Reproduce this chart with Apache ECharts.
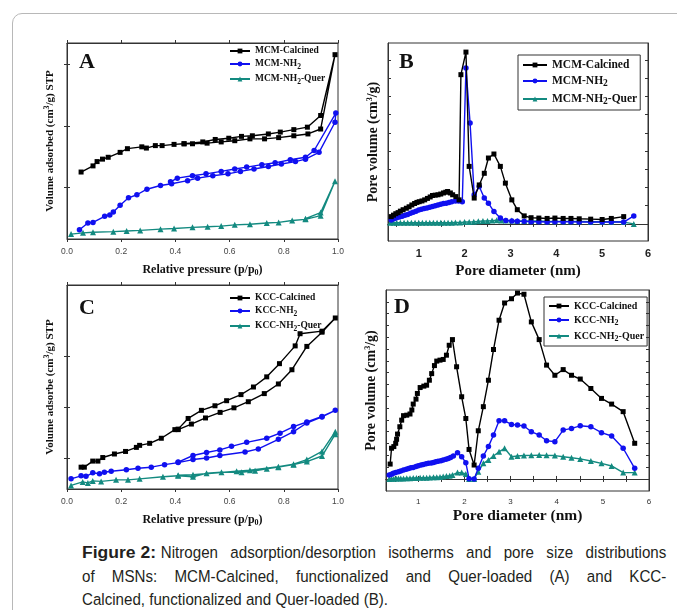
<!DOCTYPE html>
<html>
<head>
<meta charset="utf-8">
<script src="https://cdn.jsdelivr.net/npm/echarts@6/dist/echarts.min.js"></script>
<style>
    html, body { margin: 0; width: 677px; height: 610px; overflow: hidden; background: #fff; }
    #frame { position: absolute; left: 12px; top: 13px; width: 720px; height: 700px; border: 1px solid #b8b8b8; border-radius: 10px; }
    #chart { position: absolute; left: 0; top: 0; width: 677px; height: 535px; }
    #caption { position: absolute; left: 82px; top: 541px; width: 664px; color: #231f20;
        transform: scaleX(0.88); transform-origin: 0 0;
        font-family: "Liberation Sans", Arial, sans-serif; font-size: 17.2px; line-height: 23.5px; }
    #caption .ln { white-space: nowrap; text-align: justify; text-align-last: justify; }
    #caption .last { text-align-last: left; }
    #caption b { display: inline-block; transform: scaleX(1.16); transform-origin: 0 0; margin-right: 17px; }
</style>
</head>
<body>
<div id="frame"></div>
<div id="chart"></div>
<div id="caption">
    <div class="ln"><b>Figure 2:</b>Nitrogen adsorption/desorption isotherms and pore size distributions</div>
    <div class="ln">of MSNs: MCM-Calcined, functionalized and Quer-loaded (A) and KCC-</div>
    <div class="ln last">Calcined, functionalized and Quer-loaded (B).</div>
</div>
<script>
    // ---- tick labels ----
    var isoXTicks = [0, 0.2, 0.4, 0.6, 0.8, 1.0];
    var poreXTicks = [1, 2, 3, 4, 5, 6];
    var poreXMarks = [0.5, 1, 1.5, 2, 2.5, 3, 3.5, 4, 4.5, 5, 5.5, 6];
    var yTicksA = [100, 200, 300];
    var yTicksC = [100, 200, 300];
    var yTicksB = [0, 0.5, 1, 1.5, 2, 2.5, 3, 3.5, 4, 4.5];
    var yTicksD = [0, 0.5, 1, 1.5, 2, 2.5, 3, 3.5, 4, 4.5, 5, 5.5, 6, 6.5, 7, 7.5];

    // ---- A: MCM isotherms (adsorption branch then desorption back) ----
    var mcmCalcinedIso = [[0.052,125],[0.096,135],[0.111,142],[0.131,146],[0.152,149],[0.196,157],[0.223,163],[0.276,166],[0.293,164],
        [0.326,168],[0.351,168],[0.395,170],[0.432,171],[0.463,171],[0.517,172],[0.569,174],[0.619,176],[0.675,179],[0.729,179],
        [0.781,181],[0.837,184],[0.889,187],[0.936,195],[0.989,316],[0.936,217],[0.887,198],[0.837,194],[0.787,190],[0.743,187],
        [0.684,184],[0.644,183],[0.597,180],[0.547,178],[0.501,174],[0.432,171]];
    var mcmNH2Iso = [[0.046,31],[0.077,42],[0.096,43],[0.139,53],[0.158,55],[0.171,60],[0.196,71],[0.227,83],[0.258,88],[0.295,97],
        [0.345,103],[0.386,106],[0.445,111],[0.482,115],[0.538,119],[0.594,122],[0.640,126],[0.690,130],[0.743,134],[0.791,138],
        [0.843,142],[0.880,146],[0.930,157],[0.989,206],[0.992,221],[0.912,160],[0.880,149],[0.824,145],[0.768,140],[0.719,137],
        [0.663,133],[0.619,130],[0.569,126],[0.513,122],[0.463,119],[0.407,115],[0.382,109]];
    var mcmQuerIso = [[0.015,24],[0.059,26],[0.096,27],[0.171,28],[0.220,29],[0.270,30],[0.345,32],[0.395,33],[0.463,35],[0.519,36],
        [0.569,37],[0.619,39],[0.675,40],[0.737,42],[0.781,43],[0.831,46],[0.880,48],[0.936,54],[0.989,110],[0.936,59],[0.880,49]];

    // ---- B: MCM pore size distribution ----
    var mcmCalcinedPsd = [[0.40,0.20],[0.45,0.24],[0.50,0.28],[0.55,0.31],[0.60,0.35],[0.66,0.39],[0.73,0.43],[0.79,0.47],[0.85,0.52],
        [0.91,0.56],[0.96,0.59],[1.01,0.61],[1.07,0.63],[1.13,0.66],[1.19,0.70],[1.25,0.74],[1.30,0.78],[1.36,0.79],[1.42,0.80],
        [1.48,0.82],[1.54,0.85],[1.59,0.87],[1.63,0.89],[1.69,0.85],[1.74,0.80],[1.81,0.75],[1.88,0.66],[1.92,4.10],[2.03,4.72],
        [2.10,1.58],[2.21,0.71],[2.32,1.07],[2.43,1.39],[2.52,1.81],[2.64,1.92],[2.78,1.58],[2.89,1.12],[3.03,0.66],[3.15,0.39],
        [3.30,0.22],[3.45,0.17],[3.62,0.16],[3.80,0.15],[3.97,0.16],[4.15,0.15],[4.32,0.15],[4.50,0.14],[4.75,0.13],[5.00,0.12],
        [5.20,0.15],[5.47,0.20]];
    var mcmNH2Psd = [[0.40,0.11],[0.46,0.14],[0.52,0.17],[0.58,0.19],[0.64,0.21],[0.70,0.24],[0.76,0.26],[0.82,0.29],[0.88,0.32],
        [0.94,0.35],[1.00,0.38],[1.06,0.40],[1.12,0.42],[1.18,0.44],[1.24,0.46],[1.30,0.48],[1.36,0.50],[1.42,0.52],[1.48,0.54],
        [1.54,0.56],[1.60,0.57],[1.66,0.59],[1.72,0.61],[1.80,0.63],[1.87,0.63],[1.95,0.61],[2.03,4.28],[2.12,2.77],[2.21,0.80],
        [2.32,1.03],[2.43,0.71],[2.52,0.57],[2.64,0.34],[2.78,0.16],[2.90,0.09],[3.03,0.08],[3.15,0.07],[3.30,0.07],[3.45,0.06],
        [3.62,0.06],[3.80,0.05],[3.97,0.06],[4.15,0.06],[4.32,0.06],[4.50,0.05],[4.75,0.05],[5.00,0.05],[5.20,0.05],[5.47,0.05],[5.69,0.22]];
    var mcmQuerPsd = [[0.38,0.03],[0.45,0.03],[0.52,0.03],[0.60,0.03],[0.68,0.03],[0.76,0.03],[0.84,0.03],[0.92,0.03],[1.00,0.03],
        [1.08,0.03],[1.16,0.03],[1.24,0.03],[1.32,0.03],[1.40,0.03],[1.48,0.03],[1.56,0.03],[1.64,0.03],[1.72,0.03],[1.80,0.04],
        [1.90,0.04],[2.00,0.05],[2.10,0.05],[2.20,0.06],[2.30,0.07],[2.40,0.08],[2.50,0.08],[2.60,0.09],[2.70,0.10],[2.80,0.09],
        [2.90,0.09],[3.03,0.09],[3.15,0.08],[3.30,0.08],[3.45,0.08],[3.62,0.08],[3.80,0.07],[3.97,0.07],[4.15,0.07],[4.32,0.07],
        [4.50,0.07],[4.75,0.06],[5.00,0.06],[5.20,0.06],[5.47,0.05],[5.69,0.00]];

    // ---- C: KCC isotherms ----
    var kccCalcinedIso = [[0.052,82],[0.064,82],[0.095,94],[0.114,94],[0.132,101],[0.175,108],[0.216,113],[0.256,121],[0.268,125],
        [0.305,129],[0.348,139],[0.398,156],[0.410,156],[0.459,167],[0.511,179],[0.565,190],[0.616,199],[0.669,211],[0.728,227],
        [0.780,246],[0.830,274],[0.885,320],[0.941,348],[0.990,376],[0.941,350],[0.860,345],[0.842,321],[0.784,286],[0.737,260],
        [0.688,240],[0.642,225],[0.589,213],[0.546,203],[0.496,194],[0.447,178],[0.410,157]];
    var kccNH2Iso = [[0.015,59],[0.052,65],[0.070,64],[0.095,71],[0.120,69],[0.138,72],[0.163,74],[0.219,77],[0.262,80],[0.311,82],
        [0.360,87],[0.410,91],[0.465,97],[0.515,100],[0.564,105],[0.657,112],[0.706,118],[0.780,137],[0.836,152],[0.885,169],
        [0.941,181],[0.990,194],[0.941,182],[0.885,171],[0.836,162],[0.786,149],[0.737,139],[0.663,131],[0.607,123],[0.564,116],
        [0.515,111],[0.465,105],[0.410,92]];
    var kccQuerIso = [[0.015,46],[0.058,53],[0.077,51],[0.095,55],[0.126,54],[0.181,57],[0.225,57],[0.268,59],[0.354,63],[0.410,65],
        [0.465,63],[0.515,70],[0.570,72],[0.644,72],[0.694,75],[0.737,79],[0.780,82],[0.836,87],[0.885,93],[0.941,104],[0.990,147],
        [0.990,152],[0.941,113],[0.885,97],[0.836,88],[0.780,83],[0.675,76],[0.626,74],[0.465,67],[0.410,66]];

    // ---- D: KCC pore size distribution ----
    var kccCalcinedPsd = [[0.39,0.63],[0.42,1.30],[0.47,1.37],[0.51,1.51],[0.53,1.68],[0.55,1.90],[0.60,2.21],[0.64,2.49],[0.68,2.68],
        [0.75,2.70],[0.82,2.75],[0.86,2.92],[0.89,3.17],[0.95,3.38],[0.98,3.62],[1.04,3.87],[1.12,3.93],[1.18,3.97],[1.24,4.18],
        [1.29,4.46],[1.35,4.80],[1.40,4.99],[1.47,5.03],[1.54,5.06],[1.61,5.24],[1.67,5.66],[1.74,5.90],[1.83,4.75],[1.94,3.48],
        [2.03,2.56],[2.10,1.25],[2.21,0.59],[2.30,2.04],[2.41,3.06],[2.52,4.18],[2.63,5.48],[2.75,6.72],[2.87,7.45],[3.02,7.63],
        [3.15,7.87],[3.29,7.82],[3.45,6.65],[3.62,5.90],[3.78,4.82],[3.96,4.39],[4.14,4.63],[4.32,4.39],[4.51,4.23],[4.74,3.83],
        [4.97,3.41],[5.19,3.17],[5.44,2.85],[5.69,1.51]];
    var kccNH2Psd = [[0.37,0.17],[0.42,0.20],[0.46,0.24],[0.51,0.27],[0.57,0.31],[0.62,0.34],[0.68,0.38],[0.74,0.41],[0.79,0.44],
        [0.84,0.47],[0.89,0.49],[0.95,0.53],[1.00,0.56],[1.06,0.59],[1.11,0.61],[1.17,0.64],[1.22,0.66],[1.28,0.68],[1.33,0.70],
        [1.38,0.73],[1.43,0.75],[1.49,0.77],[1.54,0.80],[1.60,0.83],[1.65,0.87],[1.70,0.91],[1.76,0.97],[1.85,1.11],[1.94,0.94],
        [2.03,0.69],[2.10,0.01],[2.21,0.00],[2.30,0.45],[2.41,0.97],[2.52,1.37],[2.63,1.86],[2.75,2.46],[2.87,2.46],[3.02,2.31],
        [3.15,2.28],[3.29,2.24],[3.45,2.00],[3.62,1.86],[3.78,1.62],[3.96,1.58],[4.14,2.07],[4.32,2.14],[4.51,2.25],[4.74,2.21],
        [4.97,1.96],[5.19,1.82],[5.44,1.30],[5.69,0.45]];
    var kccQuerPsd = [[0.37,0.00],[0.42,0.01],[0.47,0.01],[0.52,0.02],[0.57,0.02],[0.62,0.02],[0.68,0.02],[0.75,0.03],[0.82,0.03],
        [0.89,0.04],[0.96,0.04],[1.04,0.05],[1.11,0.05],[1.18,0.05],[1.25,0.06],[1.33,0.07],[1.40,0.07],[1.47,0.08],[1.54,0.10],
        [1.61,0.12],[1.68,0.14],[1.74,0.17],[1.85,0.27],[1.94,0.27],[2.03,0.21],[2.10,0.00],[2.21,0.00],[2.30,0.31],[2.41,0.66],
        [2.52,0.80],[2.63,0.97],[2.75,1.15],[2.87,1.30],[3.02,0.94],[3.15,0.97],[3.29,0.99],[3.45,1.00],[3.62,1.01],[3.78,1.00],
        [3.96,0.99],[4.14,0.94],[4.32,0.90],[4.51,0.85],[4.74,0.76],[4.97,0.66],[5.19,0.55],[5.44,0.27],[5.69,0.27]];

    var serif = 'Liberation Serif';
    var sans = 'Liberation Sans';
    var colors = ['#000000', '#1010f0', '#138a80'];
    var symbols = ['rect', 'circle', 'triangle'];
    var symSizes = [5, 5.5, 6];
    var richSub = {
        sub: { fontSize: 8, fontWeight: 'bold', fontFamily: serif, padding: [6, 0, 0, 0] },
        sup: { fontSize: 8, fontWeight: 'bold', fontFamily: serif, padding: [0, 0, 6, 0] }
    };

    var panels = [
        {
            grid: { left: 67, top: 43, width: 271, height: 196 },
            xMin: 0, xMax: 1, xTicks: isoXTicks, xMarks: isoXTicks, xFmt: function (v) { return v.toFixed(1); },
            xLabel: { fontSize: 8.5, color: '#444', fontFamily: sans, margin: 8 },
            xName: 'Relative pressure (p/p{sub|0})', xNameSize: 12, xNameGap: 24,
            yMin: 16, yMax: 335, yTicks: yTicksA,
            yName: 'Volume adsorbed (cm{sup|3}/g) STP', yNameSize: 11, yNameGap: 10,
            names: ['MCM-Calcined', 'MCM-NH2', 'MCM-NH2-Quer'],
            data: [mcmCalcinedIso, mcmNH2Iso, mcmQuerIso],
            legend: { left: 229, top: 46, fontSize: 9.5, border: false, itemWidth: 20, gap: 3 },
            letter: 'A', letterPos: [79, 51], tickIn: false
        },
        {
            grid: { left: 388, top: 43, width: 260, height: 198 },
            xMin: 0.33, xMax: 6, xTicks: poreXTicks, xMarks: poreXMarks, xFmt: function (v) { return String(v); },
            xLabel: { fontSize: 11, color: '#222', fontFamily: sans, fontWeight: 'bold', margin: 7 },
            xName: 'Pore diameter (nm)', xNameSize: 15, xNameGap: 23,
            yMin: -0.47, yMax: 4.97, yTicks: yTicksB,
            yName: 'Pore volume (cm{sup|3}/g)', yNameSize: 14, yNameGap: 8,
            names: ['MCM-Calcined', 'MCM-NH2', 'MCM-NH2-Quer'],
            data: [mcmCalcinedPsd, mcmNH2Psd, mcmQuerPsd],
            legend: { left: 518, top: 55, fontSize: 11.5, border: true, itemWidth: 24, gap: 4 },
            letter: 'B', letterPos: [399, 51], tickIn: true
        },
        {
            grid: { left: 67, top: 285, width: 271, height: 204 },
            xMin: 0, xMax: 1, xTicks: isoXTicks, xMarks: isoXTicks, xFmt: function (v) { return v.toFixed(1); },
            xLabel: { fontSize: 8.5, color: '#444', fontFamily: sans, margin: 8 },
            xName: 'Relative pressure (p/p{sub|0})', xNameSize: 12, xNameGap: 24,
            yMin: 39, yMax: 441, yTicks: yTicksC,
            yName: 'Volume adsorbe (cm{sup|3}/g) STP', yNameSize: 11, yNameGap: 10,
            names: ['KCC-Calcined', 'KCC-NH2', 'KCC-NH2-Quer'],
            data: [kccCalcinedIso, kccNH2Iso, kccQuerIso],
            legend: { left: 229, top: 293, fontSize: 9.5, border: false, itemWidth: 20, gap: 3 },
            letter: 'C', letterPos: [79, 297], tickIn: false
        },
        {
            grid: { left: 386, top: 290, width: 263, height: 201 },
            xMin: 0.3, xMax: 6, xTicks: poreXTicks, xMarks: poreXMarks, xFmt: function (v) { return String(v); },
            xLabel: { fontSize: 8, color: '#333', fontFamily: sans, margin: 7 },
            xName: 'Pore diameter (nm)', xNameSize: 15.5, xNameGap: 17,
            yMin: -0.51, yMax: 8, yTicks: yTicksD,
            yName: 'Pore volume (cm{sup|3}/g)', yNameSize: 14, yNameGap: 8,
            names: ['KCC-Calcined', 'KCC-NH2', 'KCC-NH2-Quer'],
            data: [kccCalcinedPsd, kccNH2Psd, kccQuerPsd],
            legend: { left: 544, top: 297, fontSize: 10, border: true, itemWidth: 20, gap: 4 },
            letter: 'D', letterPos: [394, 296], tickIn: true
        }
    ];

    var option = {
        backgroundColor: 'transparent',
        animation: false,
        grid: [], xAxis: [], yAxis: [], series: [], legend: [], graphic: []
    };

    panels.forEach(function (p, i) {
        option.grid.push(Object.assign({ show: true, borderColor: '#333', borderWidth: 1, backgroundColor: 'transparent' }, p.grid));
        var line = { show: true, lineStyle: { color: '#333', width: 1 } };
        // bottom axis with labels
        option.xAxis.push({
            gridIndex: i, type: 'value', min: p.xMin, max: p.xMax, position: 'bottom',
            axisLine: line, splitLine: { show: false },
            axisTick: { show: true, inside: p.tickIn, length: 3, customValues: p.xMarks, lineStyle: { color: '#333' } },
            axisLabel: Object.assign({ customValues: p.xTicks, formatter: p.xFmt }, p.xLabel),
            name: p.xName, nameLocation: 'middle', nameGap: p.xNameGap,
            nameTextStyle: { fontFamily: serif, fontWeight: 'bold', fontSize: p.xNameSize, color: '#111', rich: richSub }
        });
        // top mirror axis, ticks only
        option.xAxis.push({
            gridIndex: i, type: 'value', min: p.xMin, max: p.xMax, position: 'top',
            axisLine: line, splitLine: { show: false }, axisLabel: { show: false },
            axisTick: { show: true, inside: p.tickIn, length: 3, customValues: p.xMarks, lineStyle: { color: '#333' } }
        });
        option.yAxis.push({
            gridIndex: i, type: 'value', min: p.yMin, max: p.yMax, position: 'left',
            axisLine: line, splitLine: { show: false }, axisLabel: { show: false },
            axisTick: { show: true, inside: p.tickIn, length: 3, customValues: p.yTicks, lineStyle: { color: '#333' } },
            name: p.yName, nameLocation: 'middle', nameGap: p.yNameGap,
            nameTextStyle: { fontFamily: serif, fontWeight: 'bold', fontSize: p.yNameSize, color: '#111', rich: richSub }
        });
        option.yAxis.push({
            gridIndex: i, type: 'value', min: p.yMin, max: p.yMax, position: 'right',
            axisLine: line, splitLine: { show: false }, axisLabel: { show: false },
            axisTick: { show: true, inside: p.tickIn, length: 3, customValues: p.yTicks, lineStyle: { color: '#333' } }
        });
        p.names.forEach(function (nm, k) {
            option.series.push({
                name: nm, type: 'line', xAxisIndex: 2 * i, yAxisIndex: 2 * i,
                data: p.data[k], symbol: symbols[k], symbolSize: symSizes[k], showSymbol: true,
                lineStyle: { color: colors[k], width: 1.4 }, itemStyle: { color: colors[k] },
                z: 3 - k
            });
        });
        option.legend.push({
            data: p.names, orient: 'vertical', left: p.legend.left, top: p.legend.top,
            itemWidth: p.legend.itemWidth, itemHeight: 6, itemGap: p.legend.gap,
            padding: p.legend.border ? [4, 3, 3, 4] : 0,
            borderColor: p.legend.border ? '#333' : 'transparent', borderWidth: p.legend.border ? 1 : 0,
            selectedMode: false,
            formatter: function (n) { return n.replace('NH2', 'NH{sub|2}'); },
            textStyle: {
                fontFamily: serif, fontWeight: 'bold', fontSize: p.legend.fontSize, color: '#111',
                rich: { sub: { fontSize: p.legend.fontSize - 2, fontWeight: 'bold', fontFamily: serif, padding: [6, 0, 0, 0] } }
            }
        });
        option.graphic.push({
            type: 'text', left: p.letterPos[0], top: p.letterPos[1],
            style: { text: p.letter, fontFamily: serif, fontWeight: 'bold', fontSize: 22, fill: '#111' }
        });
    });

    var chart = echarts.init(document.getElementById('chart'));
    chart.setOption(option);
</script>
</body>
</html>
